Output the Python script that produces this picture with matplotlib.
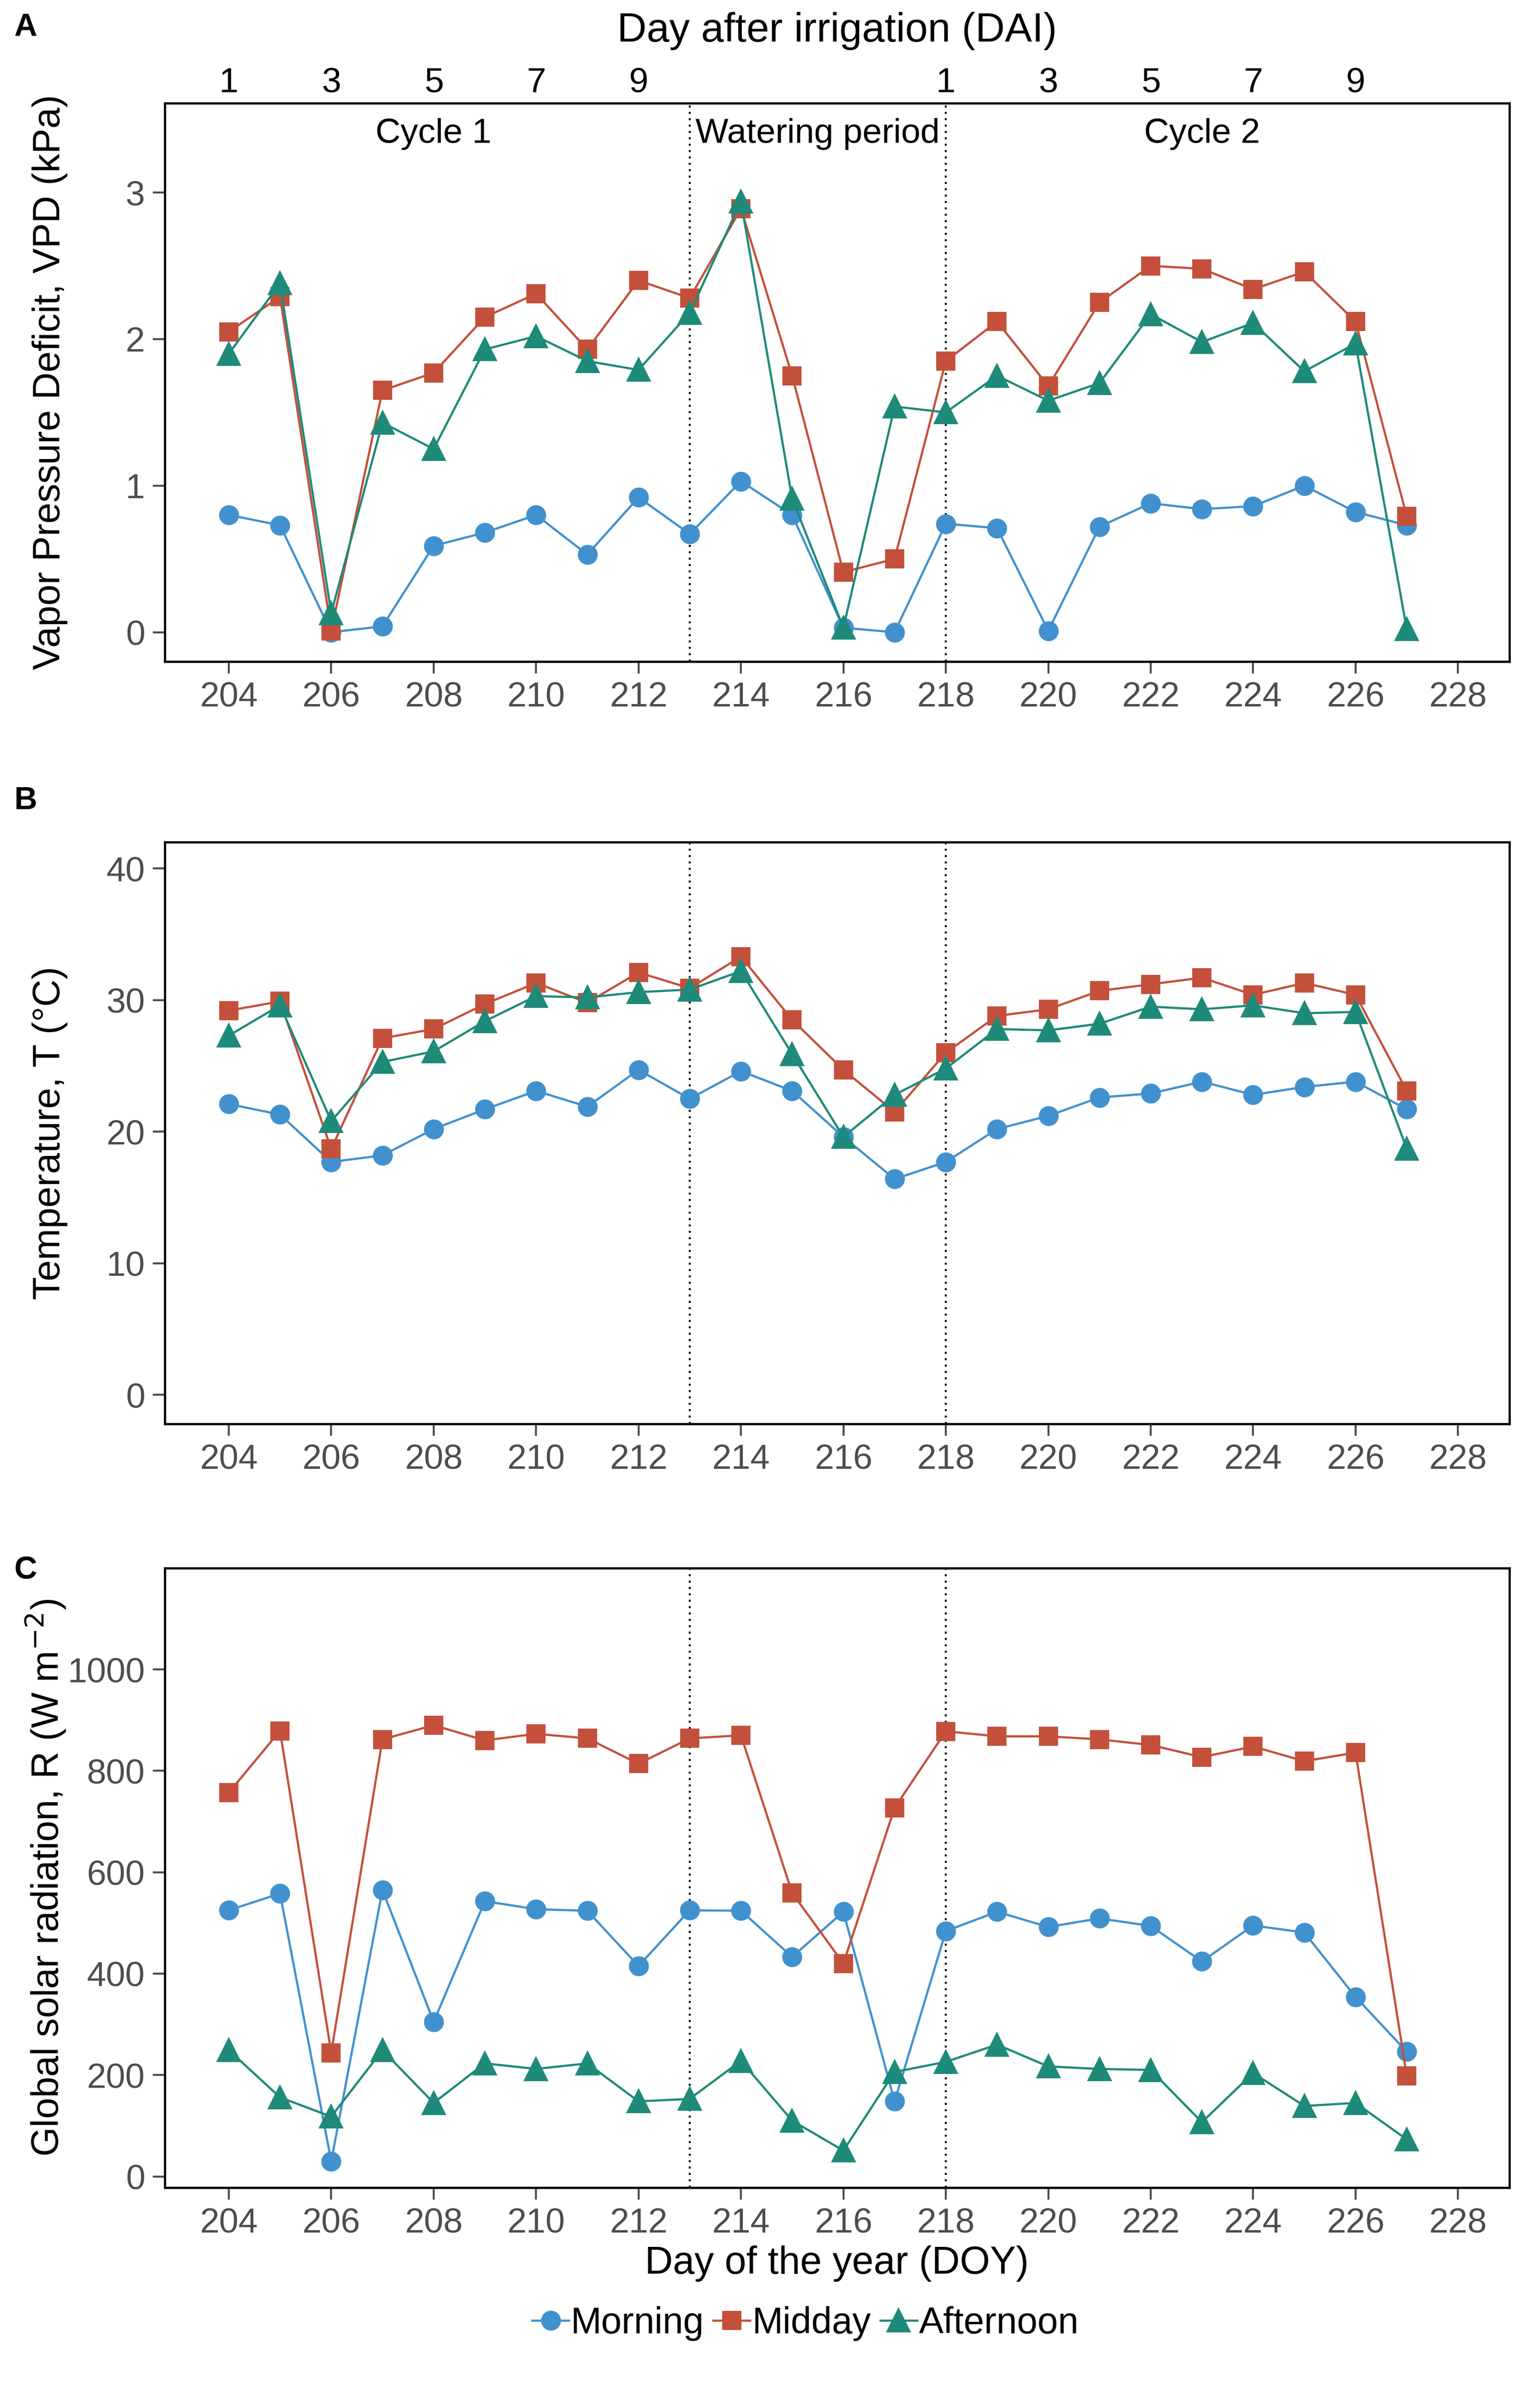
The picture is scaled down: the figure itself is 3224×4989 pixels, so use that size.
import matplotlib
matplotlib.use("Agg")
import matplotlib.pyplot as plt
from matplotlib.lines import Line2D

plt.rcParams['font.family'] = ['Liberation Sans', 'DejaVu Sans']

# day of year
doy = list(range(204, 228))

# VPD (kPa)
vpd_morning = [0.80, 0.73, 0.00, 0.04, 0.59, 0.68, 0.80, 0.53, 0.92, 0.67, 1.03, 0.80,
               0.03, 0.00, 0.74, 0.71, 0.01, 0.72, 0.88, 0.84, 0.86, 1.00, 0.82, 0.73]
vpd_midday = [2.05, 2.29, 0.01, 1.65, 1.77, 2.15, 2.31, 1.93, 2.40, 2.28, 2.89, 1.75,
              0.41, 0.50, 1.85, 2.12, 1.68, 2.25, 2.50, 2.48, 2.34, 2.46, 2.12, 0.79]
vpd_afternoon = [1.90, 2.38, 0.13, 1.43, 1.25, 1.93, 2.02, 1.85, 1.79, 2.18, 2.94, 0.91,
                 0.03, 1.54, 1.50, 1.75, 1.58, 1.70, 2.17, 1.98, 2.11, 1.78, 1.97, 0.02]

# temperature (C)
t_morning = [22.1, 21.3, 17.7, 18.2, 20.2, 21.7, 23.1, 21.9, 24.7, 22.5, 24.6, 23.1,
             19.6, 16.4, 17.7, 20.2, 21.2, 22.6, 22.9, 23.8, 22.8, 23.4, 23.8, 21.7]
t_midday = [29.2, 29.9, 18.7, 27.1, 27.8, 29.7, 31.3, 29.8, 32.1, 30.9, 33.3, 28.5,
            24.7, 21.5, 26.0, 28.8, 29.3, 30.7, 31.2, 31.7, 30.4, 31.3, 30.4, 23.1]
t_afternoon = [27.3, 29.6, 20.8, 25.3, 26.1, 28.4, 30.3, 30.2, 30.6, 30.8, 32.2, 25.9,
               19.6, 22.8, 24.8, 27.8, 27.7, 28.2, 29.5, 29.3, 29.6, 29.0, 29.1, 18.7]

# global solar radiation (W m-2)
r_morning = [525, 558, 30, 565, 305, 543, 527, 524, 415, 525, 524, 433,
             522, 148, 484, 522, 492, 509, 494, 424, 495, 481, 354, 246]
r_midday = [757, 879, 244, 862, 890, 860, 873, 864, 814, 864, 870, 559,
            420, 727, 878, 868, 868, 862, 851, 827, 848, 819, 836, 198]
r_afternoon = [249, 156, 118, 249, 145, 223, 212, 223, 148, 153, 228, 110,
               51, 206, 226, 260, 217, 212, 210, 107, 204, 139, 145, 73]

dai_pos = [204, 206, 208, 210, 212, 218, 220, 222, 224, 226]
dai_lab = ['1', '3', '5', '7', '9', '1', '3', '5', '7', '9']
xticks = list(range(204, 229, 2))

c_morn = '#4191CE'
c_mid = '#C4503B'
c_aft = '#1E8A79'
tick_grey = '#4D4D4D'

fig = plt.figure(figsize=(3224 / 300, 4989 / 300), dpi=300)

rects = [[0.107, 0.7224, 0.873, 0.2343],
         [0.107, 0.4025, 0.873, 0.2441],
         [0.107, 0.0820, 0.873, 0.2600]]
ylims = [(-0.2, 3.61), (-2.2, 42), (-22, 1200)]
yticks = [[0, 1, 2, 3], [0, 10, 20, 30, 40], [0, 200, 400, 600, 800, 1000]]
ylabels = ['Vapor Pressure Deficit, VPD (kPa)', 'Temperature, T (°C)',
           'Global solar radiation, R (W m$^{-2}$)']
series = [(vpd_morning, vpd_midday, vpd_afternoon),
          (t_morning, t_midday, t_afternoon),
          (r_morning, r_midday, r_afternoon)]

axes = []
for i in range(3):
    ax = fig.add_axes(rects[i])
    m, md, af = series[i]
    ax.axvline(213, color='black', ls=(0, (1, 2.2)), lw=1.0, zorder=1)
    ax.axvline(218, color='black', ls=(0, (1, 2.2)), lw=1.0, zorder=1)
    ax.plot(doy, m, color=c_morn, lw=1.1, marker='o', ms=9, zorder=3)
    ax.plot(doy, md, color=c_mid, lw=1.1, marker='s', ms=8.8, zorder=3)
    ax.plot(doy, af, color=c_aft, lw=1.1, marker='^', ms=11, zorder=3)
    ax.set_xlim(202.75, 229.0)
    ax.set_ylim(*ylims[i])
    ax.set_xticks(xticks)
    ax.set_yticks(yticks[i])
    ax.tick_params(labelsize=17.5, colors=tick_grey, length=6, width=1.0, pad=4)
    for s in ax.spines.values():
        s.set_linewidth(1.1)
        s.set_color('black')
    ax.set_ylabel(ylabels[i], fontsize=19)
    ax.yaxis.set_label_coords(-0.072, 0.5)
    axes.append(ax)

axes[2].set_xlabel('Day of the year (DOY)', fontsize=19.5, labelpad=3)

# top DAI axis on panel A
top = axes[0].secondary_xaxis('top')
top.set_xticks(dai_pos)
top.set_xticklabels(dai_lab)
top.tick_params(length=0, labelsize=17.5, colors='black', pad=2)
top.spines['top'].set_visible(False)
top.set_xlabel('Day after irrigation (DAI)', fontsize=20.5, labelpad=13)

axes[0].text(208, 3.40, 'Cycle 1', ha='center', va='center', fontsize=17.5)
axes[0].text(215.5, 3.40, 'Watering period', ha='center', va='center', fontsize=17.5)
axes[0].text(223, 3.40, 'Cycle 2', ha='center', va='center', fontsize=17.5)

for lab, y in zip(['A', 'B', 'C'], [0.9945, 0.670, 0.347]):
    fig.text(0.009, y, lab, fontsize=16, fontweight='bold', va='top', ha='left')

handles = [Line2D([], [], color=c_morn, lw=1.1, marker='o', ms=9),
           Line2D([], [], color=c_mid, lw=1.1, marker='s', ms=8.8),
           Line2D([], [], color=c_aft, lw=1.1, marker='^', ms=11)]
fig.legend(handles, ['Morning', 'Midday', 'Afternoon'], loc='center',
           bbox_to_anchor=(0.523, 0.025), ncol=3, frameon=False, fontsize=18.5,
           handlelength=1.0, handletextpad=0.05, columnspacing=0.25)

fig.savefig('out.png', dpi=300)
